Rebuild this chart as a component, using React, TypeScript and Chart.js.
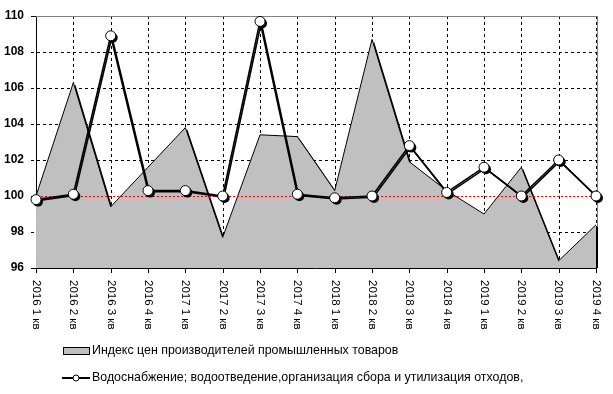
import React, { useEffect, useRef } from 'react';
import { Chart, registerables } from 'chart.js';

const categories = [
  '2016 1 кв', '2016 2 кв', '2016 3 кв', '2016 4 кв',
  '2017 1 кв', '2017 2 кв', '2017 3 кв', '2017 4 кв',
  '2018 1 кв', '2018 2 кв', '2018 3 кв', '2018 4 кв',
  '2019 1 кв', '2019 2 кв', '2019 3 кв', '2019 4 кв',
];
const priceIndex = [100.0, 106.3, 99.4, 101.6, 103.8, 97.7, 103.4, 103.3, 100.3, 108.7, 101.9, 100.3, 99.0, 101.6, 96.4, 98.4];
const waterSupply = [99.8, 100.1, 108.9, 100.3, 100.3, 100.0, 109.7, 100.1, 99.9, 100.0, 102.8, 100.2, 101.6, 100.0, 102.0, 100.0];
const yMin = 96;
const yMax = 110;
const yStep = 2;
const referenceValue = 100;
const seriesNames = [
  'Индекс цен производителей промышленных товаров',
  'Водоснабжение; водоотведение,организация сбора и утилизация отходов,',
];

const FONT = '"Liberation Sans", Arial, sans-serif';

function hDash(ctx: CanvasRenderingContext2D, x0: number, x1: number, y: number, dash: number, gap: number) {
  for (let x = x0; x < x1; x += dash + gap) {
    ctx.fillRect(x, y, Math.min(dash, x1 - x), 1);
  }
}
function vDash(ctx: CanvasRenderingContext2D, x: number, y0: number, y1: number, dash: number, gap: number) {
  for (let y = y0; y < y1; y += dash + gap) {
    ctx.fillRect(x, y, 1, Math.min(dash, y1 - y));
  }
}

const excelPlugin = {
  id: 'excelLook',
  beforeDatasetsDraw(chart: any) {
    const ctx: CanvasRenderingContext2D = chart.ctx;
    const { left, right, top, bottom } = chart.chartArea;
    const xs = chart.scales.x;
    const ys = chart.scales.y;
    const L = Math.round(left);
    const R = Math.round(right);
    const T = Math.round(top);
    const B = Math.round(bottom);
    ctx.save();
    ctx.fillStyle = '#000';
    ys.ticks.forEach((t: any) => {
      const py = Math.round(ys.getPixelForValue(t.value));
      if (t.value === yMin || t.value === yMax || t.value === referenceValue) {
        ctx.fillRect(L - 5, py, 5, 1);
      } else {
        hDash(ctx, L - 5, R, py, 3, 3);
      }
    });
    categories.forEach((_, i) => {
      const px = Math.round(xs.getPixelForTick(i));
      if (i > 0) vDash(ctx, px, T, B, 3, 3);
      ctx.fillRect(px, B, 1, 5);
    });
    ctx.fillStyle = '#808080';
    ctx.fillRect(L, T, R - L + 2, 1);
    ctx.fillRect(R + 1, T, 1, B - T);

    const pts = chart.getDatasetMeta(0).data;
    if (pts.length) {
      ctx.save();
      ctx.beginPath();
      ctx.rect(left, top, right - left + 2, bottom - top);
      ctx.clip();
      ctx.fillStyle = '#000';
      ctx.beginPath();
      ctx.moveTo(pts[0].x + 2, bottom + 2);
      pts.forEach((p: any) => ctx.lineTo(p.x + 2, p.y + 2));
      ctx.lineTo(pts[pts.length - 1].x + 2, bottom + 2);
      ctx.closePath();
      ctx.fill();
      ctx.restore();
    }
    ctx.restore();
  },
  afterDatasetDraw(chart: any, args: any) {
    const ctx: CanvasRenderingContext2D = chart.ctx;
    if (args.index === 0) {
      const { left, right } = chart.chartArea;
      const y = Math.round(chart.scales.y.getPixelForValue(referenceValue));
      ctx.save();
      ctx.fillStyle = '#FF0000';
      hDash(ctx, Math.round(left) + 1, Math.round(right), y, 2, 2);
      ctx.restore();

      const pts = chart.getDatasetMeta(1).data;
      if (pts.length) {
        ctx.save();
        ctx.strokeStyle = '#000';
        ctx.fillStyle = '#000';
        ctx.lineWidth = 1.6;
        ctx.lineJoin = 'round';
        ctx.beginPath();
        pts.forEach((p: any, i: number) => {
          if (i === 0) ctx.moveTo(p.x + 1.2, p.y + 1.2);
          else ctx.lineTo(p.x + 1.2, p.y + 1.2);
        });
        ctx.stroke();
        pts.forEach((p: any) => {
          ctx.beginPath();
          ctx.arc(p.x + 2, p.y + 2, 5, 0, Math.PI * 2);
          ctx.fill();
        });
        ctx.restore();
      }
    }
  },
  afterDraw(chart: any) {
    const ctx: CanvasRenderingContext2D = chart.ctx;
    const xs = chart.scales.x;
    const B = chart.chartArea.bottom;
    ctx.save();
    ctx.fillStyle = '#000';
    ctx.font = `11.5px ${FONT}`;
    ctx.textAlign = 'left';
    ctx.textBaseline = 'middle';
    (chart.data.labels as string[]).forEach((lab, i) => {
      const x = xs.getPixelForTick(i);
      ctx.save();
      ctx.translate(x, B + 12);
      ctx.rotate(Math.PI / 2);
      ctx.fillText(lab, 0, 0);
      ctx.restore();
    });
    ctx.restore();

    ctx.save();
    ctx.font = `12.4px ${FONT}`;
    ctx.textBaseline = 'middle';
    ctx.textAlign = 'left';
    ctx.fillStyle = '#C0C0C0';
    ctx.fillRect(63, 347, 27, 8);
    ctx.strokeStyle = '#000';
    ctx.lineWidth = 1;
    ctx.strokeRect(63.5, 347.5, 26, 7);
    ctx.fillStyle = '#000';
    ctx.fillText(seriesNames[0], 92, 351);

    ctx.fillRect(62, 377, 28, 2);
    ctx.beginPath();
    ctx.arc(76, 378, 3, 0, Math.PI * 2);
    ctx.fillStyle = '#fff';
    ctx.fill();
    ctx.lineWidth = 1;
    ctx.stroke();
    ctx.fillStyle = '#000';
    ctx.fillText(seriesNames[1], 92, 378);
    ctx.restore();
  },
};

Chart.register(excelPlugin);
Chart.register(...registerables);

export default function App() {
  const ref = useRef<HTMLCanvasElement | null>(null);
  useEffect(() => {
    document.body.style.margin = '0';
    const canvas = ref.current!;
    const chart = new Chart(canvas, {
      type: 'line',
      data: {
        labels: categories,
        datasets: [
          {
            label: seriesNames[0],
            data: priceIndex,
            fill: 'start',
            backgroundColor: '#C0C0C0',
            borderColor: '#000',
            borderWidth: 1,
            pointRadius: 0,
            order: 2,
          },
          {
            label: seriesNames[1],
            data: waterSupply,
            fill: false,
            borderColor: '#000',
            borderWidth: 1.6,
            pointRadius: 5,
            pointBackgroundColor: '#fff',
            pointBorderColor: '#000',
            pointBorderWidth: 1,
            order: 1,
          },
        ],
      },
      options: {
        animation: false,
        responsive: false,
        devicePixelRatio: 1,
        layout: { padding: { top: 16, right: 17, bottom: 118, left: 0 } },
        plugins: {
          legend: { display: false },
          tooltip: { enabled: false },
        },
        scales: {
          x: {
            offset: false,
            ticks: { display: false },
            grid: { display: false },
            border: { display: true, color: '#000', width: 1 },
          },
          y: {
            min: yMin,
            max: yMax,
            ticks: {
              stepSize: yStep,
              color: '#000',
              padding: 4,
              font: { family: FONT, size: 12, weight: 'bold' },
            },
            grid: { display: false },
            border: { display: true, color: '#000', width: 1 },
          },
        },
      },
    });
    return () => chart.destroy();
  }, []);
  return (
    <div style={{ width: 613, height: 394 }}>
      <canvas ref={ref} width={613} height={394} style={{ display: 'block' }} />
    </div>
  );
}
